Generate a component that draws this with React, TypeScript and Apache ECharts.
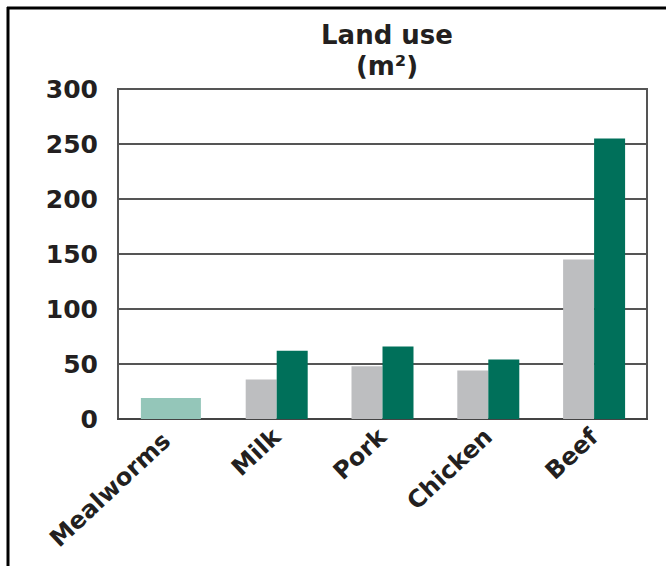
import React, { useEffect, useRef } from "react";
import * as echarts from "echarts";

const categories = ["Mealworms", "Milk", "Pork", "Chicken", "Beef"];
const conventional = ["-", 36, 48, 44, 145];
const conventionalHigh = ["-", 62, 66, 54, 255];
const mealworms = [19, "-", "-", "-", "-"];
const yTicks = [0, 50, 100, 150, 200, 250, 300];

const FONT = "DejaVu Sans";

export default function App() {
  const ref = useRef<HTMLDivElement>(null);
  useEffect(() => {
    const chart = echarts.init(ref.current!, null, { renderer: "svg" });
    const catData = categories.map((c, i) =>
      i === 0
        ? { value: c, textStyle: { padding: [0, 6, 0, 0] } }
        : { value: c, textStyle: { padding: [0, 0, 0, 0] } }
    );
    chart.setOption({
      animation: false,
      backgroundColor: "#ffffff",
      title: {
        text: "Land use\n(m²)",
        left: 382,
        top: 14,
        textAlign: "center",
        textStyle: {
          fontFamily: FONT,
          fontWeight: "bold",
          fontSize: 26,
          lineHeight: 31,
          color: "#231f20",
        },
      },
      graphic: [
        { type: "line", shape: { x1: 8, y1: 7, x2: 8, y2: 566 }, style: { stroke: "#000", lineWidth: 3 } },
        { type: "line", shape: { x1: 7, y1: 8, x2: 666, y2: 8 }, style: { stroke: "#000", lineWidth: 3 } },
      ],
      grid: {
        left: 118,
        right: 19,
        top: 89,
        bottom: 147,
        show: true,
        borderColor: "#555",
        borderWidth: 2,
        containLabel: false,
        outerBoundsMode: "none",
      },
      xAxis: [
        {
          type: "category",
          data: catData,
          axisTick: { show: false },
          axisLine: { lineStyle: { color: "#444", width: 2 } },
          axisLabel: {
            rotate: 43,
            margin: 14,
            interval: 0,
            fontFamily: FONT,
            fontWeight: "bold",
            fontSize: 24,
            color: "#231f20",
          },
        },
        { type: "category", data: categories, show: false },
      ],
      yAxis: {
        type: "value",
        min: yTicks[0],
        max: yTicks[yTicks.length - 1],
        interval: 50,
        axisLine: { show: false },
        axisTick: { show: false },
        splitLine: { lineStyle: { color: "#555", width: 2 } },
        axisLabel: {
          margin: 20,
          fontFamily: FONT,
          fontWeight: "bold",
          fontSize: 25,
          color: "#231f20",
        },
      },
      series: [
        {
          type: "bar",
          data: conventional,
          barWidth: 31,
          barGap: "0%",
          itemStyle: { color: "#bdbec0" },
        },
        {
          type: "bar",
          data: conventionalHigh,
          barWidth: 31,
          barGap: "0%",
          itemStyle: { color: "#00705a" },
        },
        {
          type: "bar",
          xAxisIndex: 1,
          data: mealworms,
          barWidth: 60,
          itemStyle: { color: "#94c6b9" },
        },
      ],
    });
    return () => chart.dispose();
  }, []);
  return (
    <div
      ref={ref}
      style={{ position: "fixed", left: 0, top: 0, width: 666, height: 566 }}
    />
  );
}
